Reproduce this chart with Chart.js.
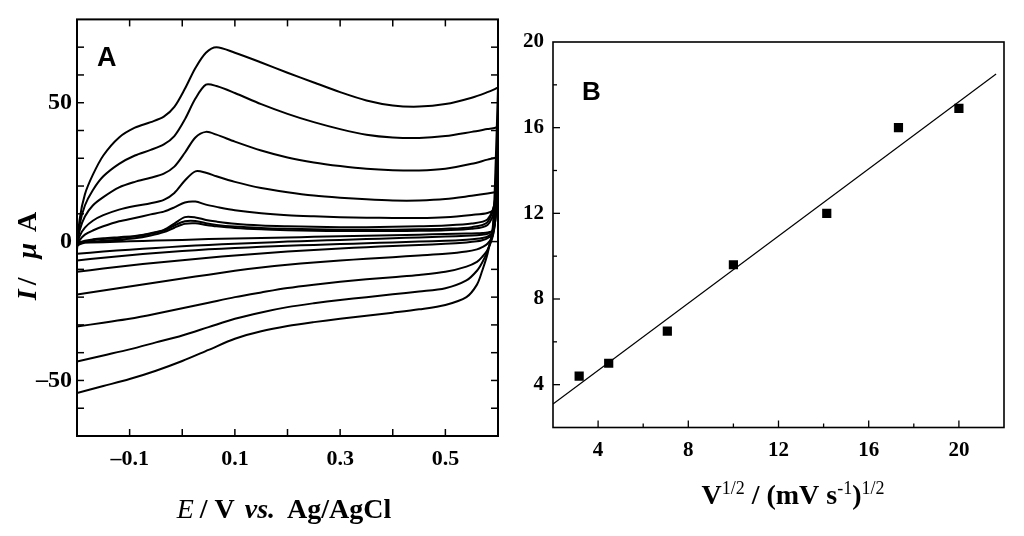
<!DOCTYPE html>
<html lang="en">
<head>
    <meta charset="UTF-8">
    <title>CV - scan rate study</title>
    <script src="https://cdn.jsdelivr.net/npm/chart.js"></script>
    <style>
        html, body { margin: 0; padding: 0; background: #fff; }
        #wrap { position: relative; width: 1024px; height: 536px; overflow: hidden; }
        canvas { position: absolute; top: 0; }
        #chartA { left: 0; }
        #chartB { left: 512px; }
    </style>
</head>
<body>
<div id="wrap">
    <canvas id="chartA" width="512" height="536"></canvas>
    <canvas id="chartB" width="512" height="536"></canvas>
</div>
<script>
// ---------- panel A : cyclic voltammograms (E in V, I in uA) ----------
const ePosSweep = [-0.2, -0.195, -0.185, -0.17, -0.15, -0.12, -0.09, -0.06, -0.035, -0.015, 0.005, 0.025, 0.045, 0.065, 0.1, 0.15, 0.2, 0.25, 0.3, 0.35, 0.4, 0.45, 0.5, 0.55, 0.58, 0.595, 0.6];
const eNegSweep = [0.6, 0.595, 0.59, 0.58, 0.57, 0.56, 0.54, 0.5, 0.45, 0.4, 0.35, 0.3, 0.25, 0.2, 0.15, 0.1, 0.05, 0.0, -0.05, -0.1, -0.15, -0.2];

const iUp400 = [-3, 8, 17, 24, 31, 37.5, 41, 43, 45, 48.5, 55, 62.5, 68, 70, 68, 64.5, 60.8, 57.3, 53.8, 50.8, 49, 48.6, 49.5, 51.8, 53.8, 55, 55.5];
const iUp300 = [-2, 6, 13, 18.5, 23.5, 28, 31, 33, 35, 38, 44, 51.5, 56.5, 56, 53.5, 49.5, 46, 43, 40.5, 38.5, 37.5, 37.3, 38, 39.5, 40.5, 41, 41.5];
const iUp200 = [-1.5, 4, 9, 13, 16, 19.5, 21.5, 23, 24.5, 27, 32, 37.5, 39.5, 38.5, 36, 32.8, 30.3, 28.5, 27.2, 26.2, 25.7, 25.6, 26.2, 28, 29.5, 30.2, 30.5];
const iUp100 = [-1.5, 2, 5, 7.5, 9.5, 11.5, 12.8, 13.8, 15, 17.5, 22, 25.3, 24.8, 23.5, 21.5, 19.3, 17.8, 16.6, 15.8, 15.2, 14.8, 14.8, 15.3, 16.5, 17.3, 17.8, 18];
const iUp50  = [-1.5, 0.5, 2.5, 4, 5.5, 7.3, 8.5, 9.8, 10.8, 12.3, 14.1, 14.4, 13.3, 12.5, 11.3, 10.2, 9.5, 9.1, 8.8, 8.6, 8.5, 8.5, 8.8, 9.6, 10.3, 12, 25];
const iUp20  = [-1.5, -0.5, 0.3, 0.8, 1.2, 1.6, 2, 3, 4.2, 6.5, 8.8, 8.7, 7.8, 7.2, 6.4, 5.8, 5.5, 5.3, 5.2, 5.2, 5.3, 5.5, 5.8, 6.5, 8, 15, 38];
const iUp10  = [-1.5, -0.8, 0, 0.5, 0.9, 1.3, 1.8, 2.8, 4, 5.8, 7.3, 7.4, 6.6, 6, 5.4, 4.9, 4.6, 4.4, 4.3, 4.3, 4.3, 4.4, 4.6, 5.2, 7, 16, 47];
const iUp5   = [-1.5, -1, -0.4, 0, 0.3, 0.7, 1.2, 2.2, 3.4, 5, 6.4, 6.6, 6, 5.5, 4.9, 4.4, 4.1, 3.9, 3.8, 3.8, 3.8, 3.9, 4.1, 4.6, 6, 12, 20];

const iDn400 = [55.5, 25, 5, -4.5, -10.5, -15.5, -20, -22.8, -24.4, -25.6, -26.7, -27.8, -29, -30.4, -32.3, -35, -39, -43, -46.5, -49.5, -52, -54.5];
const iDn300 = [41.5, 18, 4, -3.5, -7.5, -10.5, -14, -16.8, -18, -19, -20, -21, -22.2, -23.6, -25.5, -27.8, -30.8, -33.8, -36.3, -38.8, -41, -43.2];
const iDn200 = [30.5, 12, 2, -3, -5.5, -7.3, -9, -10.9, -12, -12.8, -13.6, -14.5, -15.5, -16.7, -18.3, -20, -22, -24, -26, -27.8, -29.2, -30.6];
const iDn100 = [18, 8, 2, -0.8, -2, -2.8, -3.6, -4.4, -5, -5.6, -6.2, -6.8, -7.5, -8.3, -9.3, -10.5, -11.9, -13.3, -14.7, -16.2, -17.6, -19.1];
const iDn50  = [25, 8, 3, 1.2, 0.5, 0.1, -0.3, -0.8, -1.2, -1.6, -2, -2.5, -3, -3.6, -4.3, -5, -5.8, -6.7, -7.6, -8.6, -9.7, -10.9];
const iDn20  = [38, 10, 3.5, 1.8, 1.3, 1, 0.7, 0.3, 0, -0.3, -0.6, -0.9, -1.2, -1.5, -1.9, -2.3, -2.8, -3.4, -4.1, -4.9, -5.8, -6.8];
const iDn10  = [47, 12, 4, 2.8, 2.5, 2.3, 2.1, 1.8, 1.5, 1.2, 0.9, 0.6, 0.3, 0, -0.4, -0.8, -1.2, -1.7, -2.3, -2.9, -3.6, -4.4];
const iDn5   = [20, 8, 4, 3.3, 3.1, 3, 2.9, 2.7, 2.5, 2.3, 2.1, 1.9, 1.7, 1.5, 1.3, 1.1, 0.9, 0.6, 0.4, 0.1, -0.2, -0.5];

const xLabelsA = [-0.1, 0.1, 0.3, 0.5];
const yLabelsA = [-50, 0, 50];

// ---------- panel B : peak current vs sqrt(scan rate) ----------
const sqrtRate    = [3.16, 4.47, 7.07, 10.0, 14.14, 17.32, 20.0];
const peakCurrent = [4.4, 5.0, 6.5, 9.6, 12.0, 16.0, 16.9];
const fitFrom = 2, fitTo = 21.65;

const xLabelsB = [4, 8, 12, 16, 20];
const yLabelsB = [4, 8, 12, 16, 20];

const SERIF = '"Liberation Serif", "Times New Roman", serif';
const SANS = '"Liberation Sans", Arial, sans-serif';

// pair up x / y arrays into points
const toPts = (xs, ys) => xs.map((x, i) => ({ x: x, y: ys[i] }));
const loop = (up, dn) => toPts(ePosSweep, up).concat(toPts(eNegSweep, dn));

const loopsA = [
    loop(iUp400, iDn400), loop(iUp300, iDn300), loop(iUp200, iDn200), loop(iUp100, iDn100),
    loop(iUp50, iDn50), loop(iUp20, iDn20), loop(iUp10, iDn10), loop(iUp5, iDn5)
];

const isIn = (v, list) => list.some(l => Math.abs(l - v) < 1e-6);
const dash = v => (v < 0 ? '\u2013' + Math.abs(v) : String(v));

// least squares line through panel B points
const n = sqrtRate.length;
const mx = sqrtRate.reduce((a, b) => a + b, 0) / n;
const my = peakCurrent.reduce((a, b) => a + b, 0) / n;
let sxy = 0, sxx = 0;
sqrtRate.forEach((x, i) => { sxy += (x - mx) * (peakCurrent[i] - my); sxx += (x - mx) * (x - mx); });
const slope = sxy / sxx, icept = my - slope * mx;
const fitLine = [{ x: fitFrom, y: icept + slope * fitFrom }, { x: fitTo, y: icept + slope * fitTo }];

// frame + inward ticks, drawn from the scales
const frameTicks = {
    id: 'frameTicks',
    afterDatasetsDraw(chart, args, o) {
        const { ctx, chartArea: a } = chart;
        const sx = chart.scales.x, sy = chart.scales.y;
        ctx.save();
        ctx.strokeStyle = '#000';
        ctx.lineWidth = o.tickWidth;
        const seg = (x1, y1, x2, y2) => { ctx.beginPath(); ctx.moveTo(x1, y1); ctx.lineTo(x2, y2); ctx.stroke(); };
        sx.ticks.forEach(t => {
            const px = sx.getPixelForValue(t.value);
            if (px <= a.left + 1 || px >= a.right - 1) return;
            const len = t.label ? o.major : o.minor;
            seg(px, a.bottom, px, a.bottom - len);
            if (o.mirror) seg(px, a.top, px, a.top + len);
        });
        sy.ticks.forEach(t => {
            const py = sy.getPixelForValue(t.value);
            if (py <= a.top + 1 || py >= a.bottom - 1) return;
            const len = t.label ? o.major : o.minor;
            seg(a.left, py, a.left + len, py);
            if (o.mirror) seg(a.right, py, a.right - len, py);
        });
        ctx.lineWidth = o.frameWidth;
        ctx.strokeRect(a.left, a.top, a.right - a.left, a.bottom - a.top);
        ctx.restore();
    }
};

// text made of runs with different fonts, centred on cx
function drawRuns(ctx, runs, cx, base) {
    let w = 0;
    runs.forEach(r => { ctx.font = r.f; r.w = ctx.measureText(r.t).width + (r.gap || 0); w += r.w; });
    let x = cx - w / 2;
    runs.forEach(r => {
        ctx.font = r.f;
        ctx.fillText(r.t, x, base + (r.dy || 0));
        x += r.w;
    });
}

const labelsA = {
    id: 'labelsA',
    afterDraw(chart) {
        const ctx = chart.ctx;
        ctx.save();
        ctx.fillStyle = '#000';
        ctx.textBaseline = 'alphabetic';
        ctx.textAlign = 'left';
        ctx.font = 'bold 27px ' + SANS;
        ctx.fillText('A', 97, 66);
        drawRuns(ctx, [
            { t: 'E', f: 'italic 28px ' + SERIF, gap: 6 },
            { t: '/ V ', f: 'bold 28px ' + SERIF, gap: 3 },
            { t: 'vs.', f: 'italic bold 28px ' + SERIF, gap: 5 },
            { t: ' Ag/AgCl', f: 'bold 28px ' + SERIF }
        ], 284, 518);
        ctx.translate(36, 256);
        ctx.rotate(-Math.PI / 2);
        drawRuns(ctx, [
            { t: 'I', f: 'italic bold 28px ' + SERIF, gap: 4 },
            { t: '/  ', f: 'bold 28px ' + SERIF, gap: 5 },
            { t: '\u03bc', f: 'italic bold 28px ' + SERIF, gap: 4 },
            { t: ' A', f: 'bold 28px ' + SERIF }
        ], 0, 0);
        ctx.restore();
    }
};

const labelsB = {
    id: 'labelsB',
    afterDraw(chart) {
        const ctx = chart.ctx;
        ctx.save();
        ctx.fillStyle = '#000';
        ctx.textBaseline = 'alphabetic';
        ctx.textAlign = 'left';
        ctx.font = 'bold 26px ' + SANS;
        ctx.fillText('B', 70, 100);
        drawRuns(ctx, [
            { t: 'V', f: 'bold 28px ' + SERIF },
            { t: '1/2', f: '18px ' + SERIF, dy: -10, gap: 7 },
            { t: '/ (mV s', f: 'bold 28px ' + SERIF },
            { t: '-1', f: '18px ' + SERIF, dy: -10 },
            { t: ')', f: 'bold 28px ' + SERIF },
            { t: '1/2', f: '18px ' + SERIF, dy: -10 }
        ], 281, 504);
        ctx.restore();
    }
};

const tickFont = size => ({ family: SERIF, size: size, weight: 'bold' });

new Chart(document.getElementById('chartA'), {
    type: 'scatter',
    data: {
        datasets: loopsA.map(pts => ({
            data: pts,
            showLine: true,
            borderColor: '#000',
            borderWidth: 2,
            pointRadius: 0,
            tension: 0.3,
            fill: false
        }))
    },
    options: {
        responsive: false,
        animation: false,
        events: [],
        layout: { padding: { top: 12, right: 14, left: 0, bottom: 0 } },
        plugins: {
            legend: { display: false },
            tooltip: { enabled: false },
            frameTicks: { major: 7, minor: 7, mirror: true, tickWidth: 1.5, frameWidth: 2 }
        },
        scales: {
            x: {
                type: 'linear', min: -0.2, max: 0.6,
                grid: { display: false, drawTicks: false },
                border: { display: false },
                ticks: {
                    stepSize: 0.1, padding: 10, color: '#000', font: tickFont(22),
                    maxRotation: 0, autoSkip: false,
                    callback: v => (isIn(v, xLabelsA) ? dash(Math.round(v * 10) / 10) : '')
                },
                afterFit: s => { s.height = 100; }
            },
            y: {
                type: 'linear', min: -70, max: 80,
                grid: { display: false, drawTicks: false },
                border: { display: false },
                ticks: {
                    stepSize: 10, padding: 5, color: '#000', font: tickFont(24), autoSkip: false,
                    callback: v => (isIn(v, yLabelsA) ? dash(v) : '')
                },
                afterFit: s => { s.width = 77; }
            }
        }
    },
    plugins: [frameTicks, labelsA]
});

new Chart(document.getElementById('chartB'), {
    type: 'scatter',
    data: {
        datasets: [
            {
                data: toPts(sqrtRate, peakCurrent),
                pointStyle: 'rect',
                pointRadius: 6.5,
                backgroundColor: '#000',
                borderColor: '#000',
                borderWidth: 0,
                showLine: false
            },
            {
                data: fitLine,
                showLine: true,
                borderColor: '#000',
                borderWidth: 1.2,
                pointRadius: 0
            }
        ]
    },
    options: {
        responsive: false,
        animation: false,
        events: [],
        layout: { padding: { top: 42, right: 20, left: 0, bottom: 0 } },
        plugins: {
            legend: { display: false },
            tooltip: { enabled: false },
            frameTicks: { major: 7, minor: 4, mirror: false, tickWidth: 1.3, frameWidth: 1.6 }
        },
        scales: {
            x: {
                type: 'linear', min: 2, max: 22,
                grid: { display: false, drawTicks: false },
                border: { display: false },
                ticks: {
                    stepSize: 2, padding: 10, color: '#000', font: tickFont(21),
                    maxRotation: 0, autoSkip: false,
                    callback: v => (isIn(v, xLabelsB) ? String(v) : '')
                },
                afterFit: s => { s.height = 108.5; }
            },
            y: {
                type: 'linear', min: 2, max: 20,
                grid: { display: false, drawTicks: false },
                border: { display: false },
                ticks: {
                    stepSize: 2, padding: 9, color: '#000', font: tickFont(21), autoSkip: false,
                    callback: v => (isIn(v, yLabelsB) ? String(v) : '')
                },
                afterFit: s => { s.width = 41; }
            }
        }
    },
    plugins: [frameTicks, labelsB]
});
</script>
</body>
</html>
